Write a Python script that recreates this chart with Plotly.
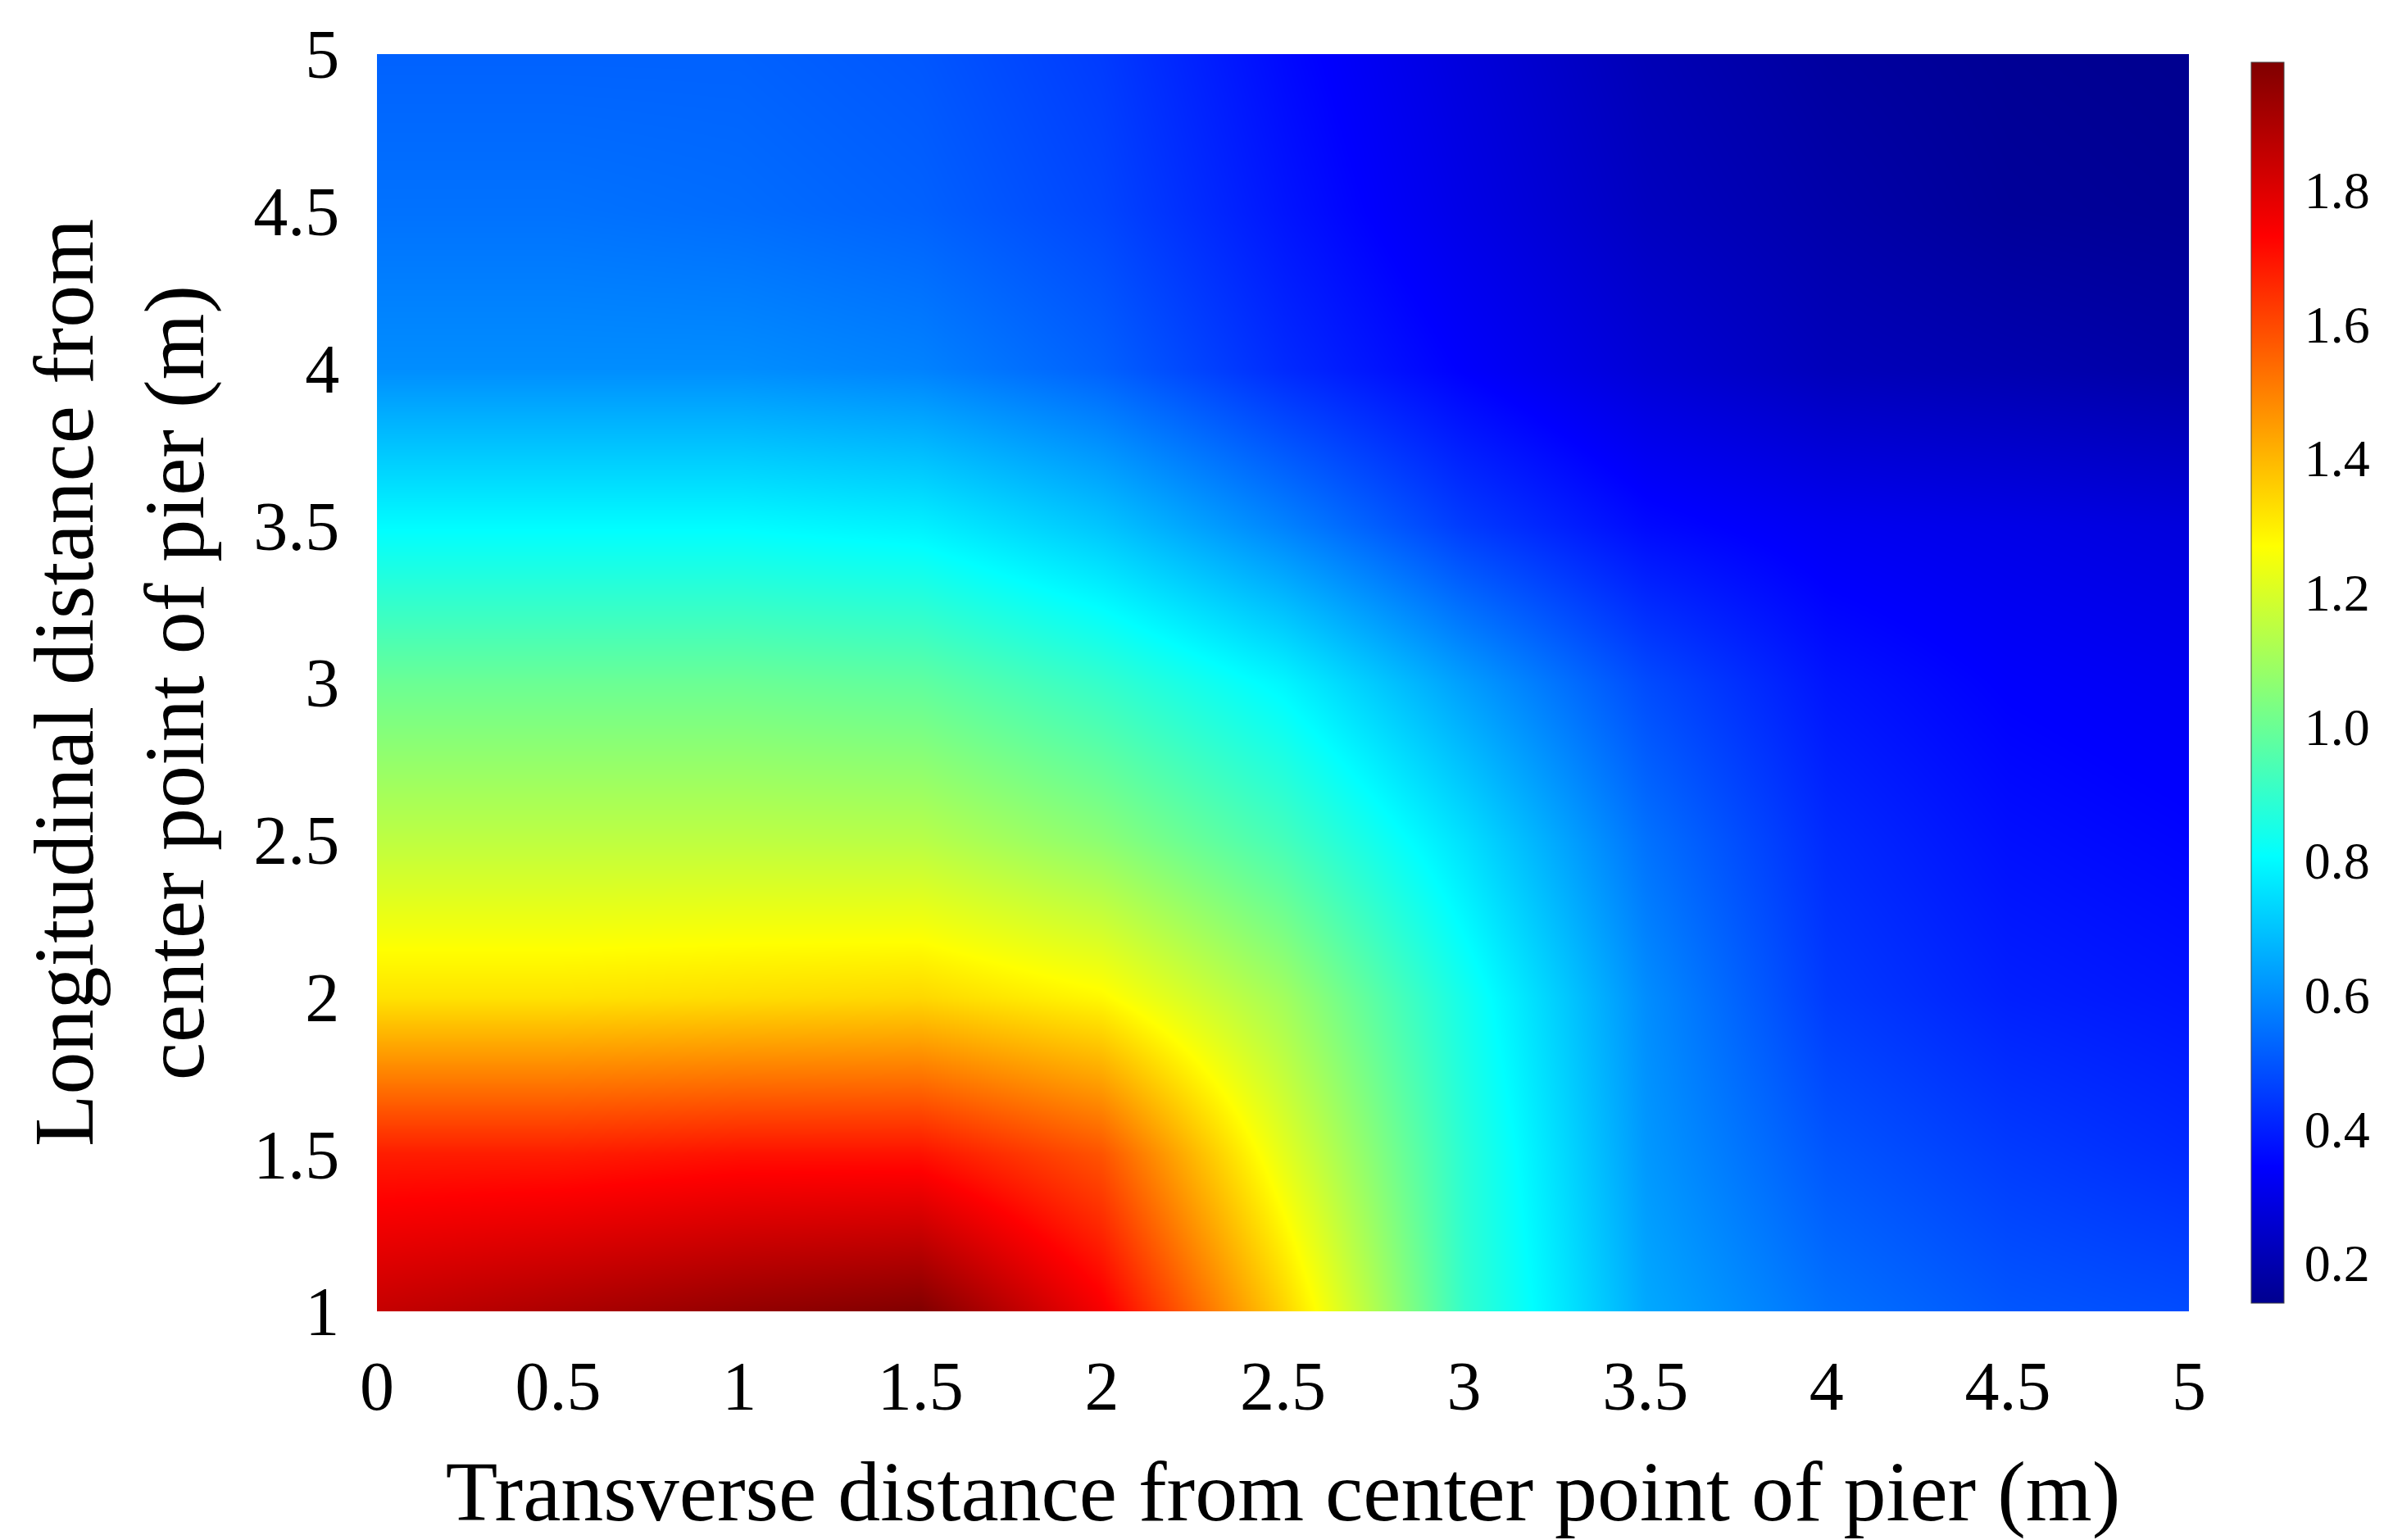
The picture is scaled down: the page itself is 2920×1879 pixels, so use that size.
import plotly.graph_objs as go

# grid of the field
x_vals = [0, 0.5, 1, 1.5, 2, 2.5, 3, 3.5, 4, 4.5, 5]
y_vals = [1, 1.5, 2, 2.5, 3, 3.5, 4, 4.5, 5]

z_rows = [
    [1.85, 1.90, 1.95, 1.99, 1.75, 1.35, 0.90, 0.65, 0.55, 0.50, 0.48],
    [1.68, 1.68, 1.70, 1.70, 1.58, 1.22, 0.88, 0.62, 0.50, 0.45, 0.42],
    [1.32, 1.32, 1.33, 1.34, 1.28, 1.10, 0.84, 0.60, 0.45, 0.40, 0.38],
    [1.15, 1.15, 1.15, 1.14, 1.06, 0.93, 0.75, 0.55, 0.42, 0.37, 0.35],
    [1.00, 1.00, 1.00, 0.98, 0.90, 0.79, 0.63, 0.48, 0.38, 0.34, 0.32],
    [0.80, 0.80, 0.80, 0.78, 0.70, 0.58, 0.45, 0.36, 0.32, 0.30, 0.28],
    [0.60, 0.60, 0.60, 0.58, 0.52, 0.42, 0.34, 0.27, 0.22, 0.20, 0.18],
    [0.55, 0.55, 0.54, 0.52, 0.47, 0.38, 0.30, 0.23, 0.19, 0.16, 0.15],
    [0.52, 0.52, 0.52, 0.50, 0.45, 0.36, 0.28, 0.21, 0.17, 0.15, 0.14],
]

cbar_ticks = [0.2, 0.4, 0.6, 0.8, 1.0, 1.2, 1.4, 1.6, 1.8]
axis_ticks = [0, 0.5, 1, 1.5, 2, 2.5, 3, 3.5, 4, 4.5, 5]
y_ticks = [1, 1.5, 2, 2.5, 3, 3.5, 4, 4.5, 5]

# matlab style jet
jet = [[0.0, 'rgb(0,0,143)'], [0.11, 'rgb(0,0,255)'], [0.36, 'rgb(0,255,255)'],
       [0.61, 'rgb(255,255,0)'], [0.86, 'rgb(255,0,0)'], [1.0, 'rgb(128,0,0)']]

font = "Liberation Serif"

fig = go.Figure()
fig.add_trace(go.Heatmap(x=x_vals, y=y_vals, z=z_rows,
                         zsmooth='best', colorscale=jet,
                         zmin=0.14, zmax=1.99,
                         colorbar=dict(tickvals=cbar_ticks, tickformat='.1f',
                                       thickness=40, len=1.0, y=0.5, yanchor='middle',
                                       x=1.03, xanchor='left', outlinewidth=1,
                                       ticks='outside', tickcolor='white', ticklen=12,
                                       tickfont=dict(size=64, family=font))))

fig.update_layout(
    width=2920, height=1879,
    margin=dict(l=452, r=2920 - 2663, t=40, b=1879 - 1592),
    paper_bgcolor='white', plot_bgcolor='white',
    font=dict(family=font, color='black'),
    xaxis=dict(range=[0, 5], tickvals=axis_ticks, ticktext=[str(t) for t in axis_ticks],
               tickfont=dict(size=84), showgrid=False, zeroline=False,
               ticks='outside', tickcolor='white', ticklen=18,
               ticklabeloverflow='allow',
               title=dict(text="Transverse distance from center point of pier (m)",
                          font=dict(size=104), standoff=45)),
    yaxis=dict(range=[1, 5], tickvals=y_ticks, ticktext=[str(t) for t in y_ticks],
               tickfont=dict(size=84), showgrid=False, zeroline=False,
               ticks='outside', tickcolor='white', ticklen=28,
               ticklabeloverflow='allow',
               title=dict(text="Longitudinal distance from<br>center point of pier (m)",
                          font=dict(size=104), standoff=25)),
)

fig.write_html("out.html")
